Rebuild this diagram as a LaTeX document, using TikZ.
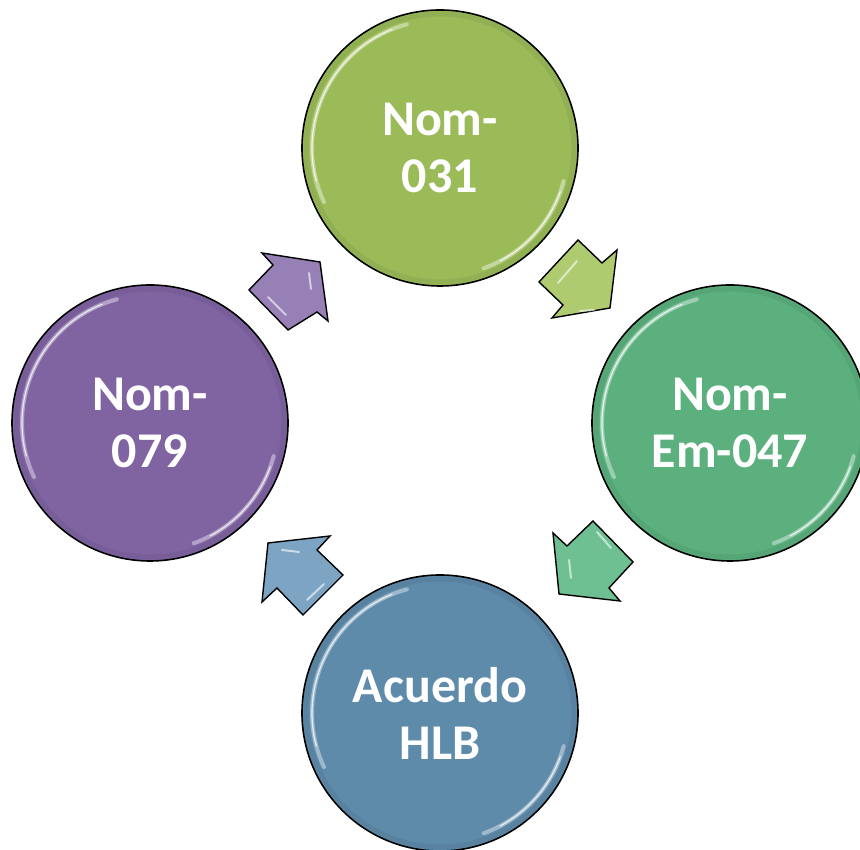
\documentclass[tikz,border=0pt]{standalone}
\usepackage{fontspec}
\setmainfont{Carlito}
\definecolor{cPurple}{HTML}{8064A2}
\definecolor{cGreen}{HTML}{9BBB59}
\definecolor{cTeal}{HTML}{5BB07E}
\definecolor{cBlue}{HTML}{5F8BAB}
\definecolor{aPurple}{HTML}{9680B6}
\definecolor{aGreen}{HTML}{AECB70}
\definecolor{aTeal}{HTML}{6EC093}
\definecolor{aBlue}{HTML}{7DA5C3}
\tikzset{
  bubble/.style={circle, draw=black, line width=1.6pt, minimum size=276pt, inner sep=0pt,
    text=white, align=center, font=\fontsize{50}{57}\selectfont\bfseries},
  blockarrow/.style={draw=black, line width=1.4pt, line join=miter},
  gloss/.style={white, opacity=0.4, line width=4pt, line cap=round},
  glossthin/.style={white, opacity=0.75, line width=1.2pt, line cap=round},
  bevel/.style={white, opacity=0.6, line width=2pt, line cap=round}
}
\newcommand{\glossring}[1]{%
  \draw[black, opacity=0.06, line width=5pt] (#1.center) circle[radius=134pt];
  \draw[gloss] (#1.center) ++(105:128pt) arc[start angle=105, end angle=205, radius=128pt];
  \draw[glossthin] (#1.center) ++(112:128pt) arc[start angle=112, end angle=195, radius=128pt];
  \draw[gloss] (#1.center) ++(-15:128pt) arc[start angle=-15, end angle=-70, radius=128pt];
  \draw[glossthin] (#1.center) ++(-20:128pt) arc[start angle=-20, end angle=-62, radius=128pt];
}
\begin{document}
\begin{tikzpicture}[x=1pt,y=1pt]
\useasboundingbox (0,0) rectangle (860,850);
% circles
\node[bubble, fill=cGreen]  (top)    at (440,702) {Nom-\\031};
\node[bubble, fill=cTeal]   (right)  at (730,427) {Nom-\\Em-047};
\node[bubble, fill=cBlue]   (bottom) at (440,137) {Acuerdo\\HLB};
\node[bubble, fill=cPurple] (left)   at (150,427) {Nom-\\079};
\glossring{top}
\glossring{right}
\glossring{bottom}
\glossring{left}
% arrows
\draw[blockarrow, fill=aPurple] (249,560) -- (273,585) -- (262,597) -- (320,588) -- (328,529) -- (317,538) -- (288,520) -- cycle;
\draw[bevel] (268,553) -- (286,535);
\draw[bevel] (309,577) -- (311,561);
\draw[blockarrow, fill=aGreen] (539,568) -- (578,610) -- (602,587) -- (617,600) -- (610,542) -- (552,532) -- (563,545) -- cycle;
\draw[bevel] (558,567) -- (577,589);
\draw[bevel] (580,539) -- (594,540);
\draw[blockarrow, fill=aTeal] (553,317) -- (567,304) -- (593,329) -- (633,288) -- (609,262) -- (620,249) -- (559,256) -- cycle;
\draw[bevel] (597,318) -- (611,302);
\draw[bevel] (569,290) -- (571,272);
\draw[blockarrow, fill=aBlue] (268,307) -- (330,314) -- (317,300) -- (343,275) -- (303,235) -- (277,262) -- (262,248) -- cycle;
\draw[bevel] (282,300) -- (299,298);
\draw[bevel] (307,250) -- (324,266);
\end{tikzpicture}
\end{document}
